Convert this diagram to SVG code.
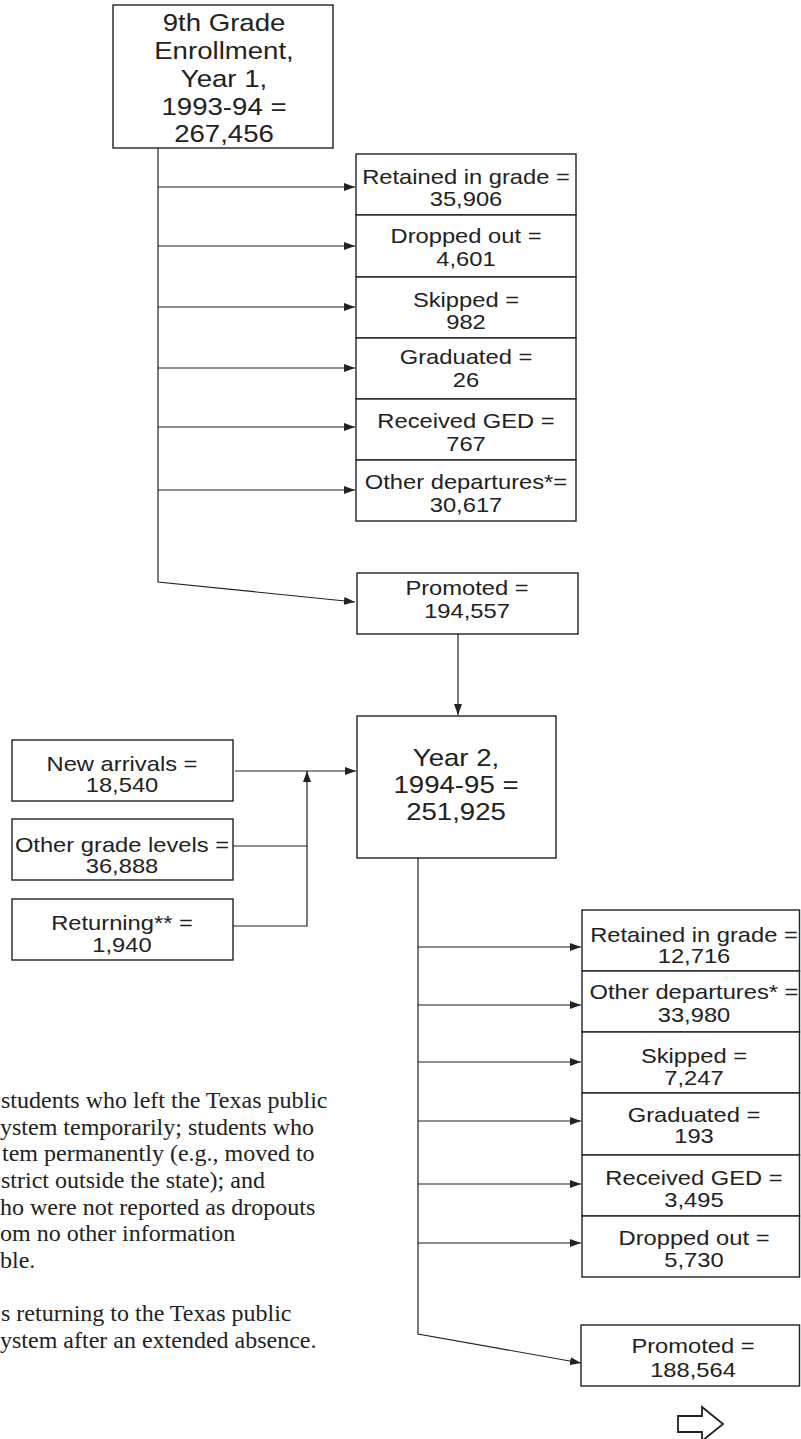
<svg xmlns="http://www.w3.org/2000/svg" width="801" height="1439" viewBox="0 0 801 1439">
<style>
rect.box{fill:#fff;stroke:#222;stroke-width:1.4}
.t{font-family:"Liberation Sans",Arial,sans-serif;font-size:21px;fill:#222;text-anchor:middle}
.tl{font-family:"Liberation Sans",Arial,sans-serif;font-size:24px;fill:#222;text-anchor:middle}
.fn{font-family:"Liberation Serif","Times New Roman",serif;font-size:24px;fill:#222}
.c{fill:none;stroke:#222;stroke-width:1.2}
</style>
<defs>
<marker id="ah" markerWidth="11" markerHeight="8" refX="11" refY="4" orient="auto" markerUnits="userSpaceOnUse">
<path d="M0,0 L11,4 L0,8 z" fill="#222"/>
</marker>
</defs>

<g id="connectors">
<path class="c" d="M158,148 V582 L355,602" marker-end="url(#ah)"/>
<path class="c" d="M158,187 H355" marker-end="url(#ah)"/>
<path class="c" d="M158,246 H355" marker-end="url(#ah)"/>
<path class="c" d="M158,307 H355" marker-end="url(#ah)"/>
<path class="c" d="M158,368 H355" marker-end="url(#ah)"/>
<path class="c" d="M158,427 H355" marker-end="url(#ah)"/>
<path class="c" d="M158,490 H355" marker-end="url(#ah)"/>
<path class="c" d="M458,634 V715" marker-end="url(#ah)"/>
<path class="c" d="M235,771 H356" marker-end="url(#ah)"/>
<path class="c" d="M233,846 H307"/>
<path class="c" d="M233,926 H307 V771" marker-end="url(#ah)"/>
<path class="c" d="M418,858 V1334 L581,1363" marker-end="url(#ah)"/>
<path class="c" d="M418,947 H581" marker-end="url(#ah)"/>
<path class="c" d="M418,1005 H581" marker-end="url(#ah)"/>
<path class="c" d="M418,1062 H581" marker-end="url(#ah)"/>
<path class="c" d="M418,1121 H581" marker-end="url(#ah)"/>
<path class="c" d="M418,1184 H581" marker-end="url(#ah)"/>
<path class="c" d="M418,1243 H581" marker-end="url(#ah)"/>
</g>

<g id="year1">
<rect class="box" x="113" y="5" width="220" height="143"/>
<text class="tl" transform="translate(224 0) scale(1.15 1)" x="0" y="31">9th Grade</text>
<text class="tl" transform="translate(224 0) scale(1.15 1)" x="0" y="59">Enrollment,</text>
<text class="tl" transform="translate(224 0) scale(1.15 1)" x="0" y="87">Year 1,</text>
<text class="tl" transform="translate(224 0) scale(1.15 1)" x="0" y="115">1993-94 =</text>
<text class="tl" transform="translate(224 0) scale(1.15 1)" x="0" y="142">267,456</text>
</g>

<g id="y1-retained">
<rect class="box" x="356" y="154" width="220" height="61"/>
<text class="t" transform="translate(466 0) scale(1.13 1)" x="0" y="184">Retained in grade =</text>
<text class="t" transform="translate(466 0) scale(1.13 1)" x="0" y="206">35,906</text>
</g>
<g id="y1-dropped">
<rect class="box" x="356" y="215" width="220" height="62"/>
<text class="t" transform="translate(466 0) scale(1.13 1)" x="0" y="243">Dropped out =</text>
<text class="t" transform="translate(466 0) scale(1.13 1)" x="0" y="266">4,601</text>
</g>
<g id="y1-skipped">
<rect class="box" x="356" y="277" width="220" height="61"/>
<text class="t" transform="translate(466 0) scale(1.13 1)" x="0" y="307">Skipped =</text>
<text class="t" transform="translate(466 0) scale(1.13 1)" x="0" y="329">982</text>
</g>
<g id="y1-graduated">
<rect class="box" x="356" y="338" width="220" height="61"/>
<text class="t" transform="translate(466 0) scale(1.13 1)" x="0" y="364">Graduated =</text>
<text class="t" transform="translate(466 0) scale(1.13 1)" x="0" y="387">26</text>
</g>
<g id="y1-ged">
<rect class="box" x="356" y="399" width="220" height="61"/>
<text class="t" transform="translate(466 0) scale(1.13 1)" x="0" y="428">Received GED =</text>
<text class="t" transform="translate(466 0) scale(1.13 1)" x="0" y="451">767</text>
</g>
<g id="y1-other">
<rect class="box" x="356" y="460" width="220" height="61"/>
<text class="t" transform="translate(466 0) scale(1.13 1)" x="0" y="489">Other departures*=</text>
<text class="t" transform="translate(466 0) scale(1.13 1)" x="0" y="512">30,617</text>
</g>
<g id="y1-promoted">
<rect class="box" x="357" y="573" width="221" height="61"/>
<text class="t" transform="translate(467 0) scale(1.13 1)" x="0" y="595">Promoted =</text>
<text class="t" transform="translate(467 0) scale(1.13 1)" x="0" y="618">194,557</text>
</g>

<g id="year2">
<rect class="box" x="357" y="716" width="199" height="142"/>
<text class="tl" transform="translate(456 0) scale(1.15 1)" x="0" y="766">Year 2,</text>
<text class="tl" transform="translate(456 0) scale(1.15 1)" x="0" y="793">1994-95 =</text>
<text class="tl" transform="translate(456 0) scale(1.15 1)" x="0" y="820">251,925</text>
</g>

<g id="new-arrivals">
<rect class="box" x="12" y="740" width="221" height="61"/>
<text class="t" transform="translate(122 0) scale(1.13 1)" x="0" y="771">New arrivals =</text>
<text class="t" transform="translate(122 0) scale(1.13 1)" x="0" y="792">18,540</text>
</g>
<g id="other-grades">
<rect class="box" x="12" y="819" width="221" height="61"/>
<text class="t" transform="translate(122 0) scale(1.13 1)" x="0" y="852">Other grade levels =</text>
<text class="t" transform="translate(122 0) scale(1.13 1)" x="0" y="873">36,888</text>
</g>
<g id="returning">
<rect class="box" x="12" y="899" width="221" height="61"/>
<text class="t" transform="translate(122 0) scale(1.13 1)" x="0" y="930">Returning** =</text>
<text class="t" transform="translate(122 0) scale(1.13 1)" x="0" y="952">1,940</text>
</g>

<g id="y2-retained">
<rect class="box" x="582" y="910" width="217.5" height="61"/>
<text class="t" transform="translate(694 0) scale(1.13 1)" x="0" y="942">Retained in grade =</text>
<text class="t" transform="translate(694 0) scale(1.13 1)" x="0" y="963">12,716</text>
</g>
<g id="y2-other">
<rect class="box" x="582" y="971" width="217.5" height="61"/>
<text class="t" transform="translate(694 0) scale(1.13 1)" x="0" y="999">Other departures* =</text>
<text class="t" transform="translate(694 0) scale(1.13 1)" x="0" y="1022">33,980</text>
</g>
<g id="y2-skipped">
<rect class="box" x="582" y="1032" width="217.5" height="61"/>
<text class="t" transform="translate(694 0) scale(1.13 1)" x="0" y="1063">Skipped =</text>
<text class="t" transform="translate(694 0) scale(1.13 1)" x="0" y="1085">7,247</text>
</g>
<g id="y2-graduated">
<rect class="box" x="582" y="1093" width="217.5" height="62"/>
<text class="t" transform="translate(694 0) scale(1.13 1)" x="0" y="1122">Graduated =</text>
<text class="t" transform="translate(694 0) scale(1.13 1)" x="0" y="1143">193</text>
</g>
<g id="y2-ged">
<rect class="box" x="582" y="1155" width="217.5" height="61"/>
<text class="t" transform="translate(694 0) scale(1.13 1)" x="0" y="1185">Received GED =</text>
<text class="t" transform="translate(694 0) scale(1.13 1)" x="0" y="1207">3,495</text>
</g>
<g id="y2-dropped">
<rect class="box" x="582" y="1216" width="217.5" height="61"/>
<text class="t" transform="translate(694 0) scale(1.13 1)" x="0" y="1245">Dropped out =</text>
<text class="t" transform="translate(694 0) scale(1.13 1)" x="0" y="1267">5,730</text>
</g>
<g id="y2-promoted">
<rect class="box" x="581" y="1325" width="218.5" height="61"/>
<text class="t" transform="translate(693 0) scale(1.13 1)" x="0" y="1353">Promoted =</text>
<text class="t" transform="translate(693 0) scale(1.13 1)" x="0" y="1377">188,564</text>
</g>

<g id="continue-arrow">
<path d="M678,1416 H702 V1407 L723,1424 L702,1441 V1432 H678 Z" fill="#fff" stroke="#222" stroke-width="1.8" stroke-linejoin="miter"/>
</g>

<g id="footnotes">
<text class="fn" x="1" y="1108">students who left the Texas public</text>
<text class="fn" x="0" y="1135">ystem temporarily; students who</text>
<text class="fn" x="2" y="1161">tem permanently (e.g., moved to</text>
<text class="fn" x="1" y="1188">strict outside the state); and</text>
<text class="fn" x="0" y="1215">ho were not reported as dropouts</text>
<text class="fn" x="0" y="1241">om no other information</text>
<text class="fn" x="0" y="1268">ble.</text>
<text class="fn" x="1" y="1321">s returning to the Texas public</text>
<text class="fn" x="0" y="1348">ystem after an extended absence.</text>
</g>
</svg>
